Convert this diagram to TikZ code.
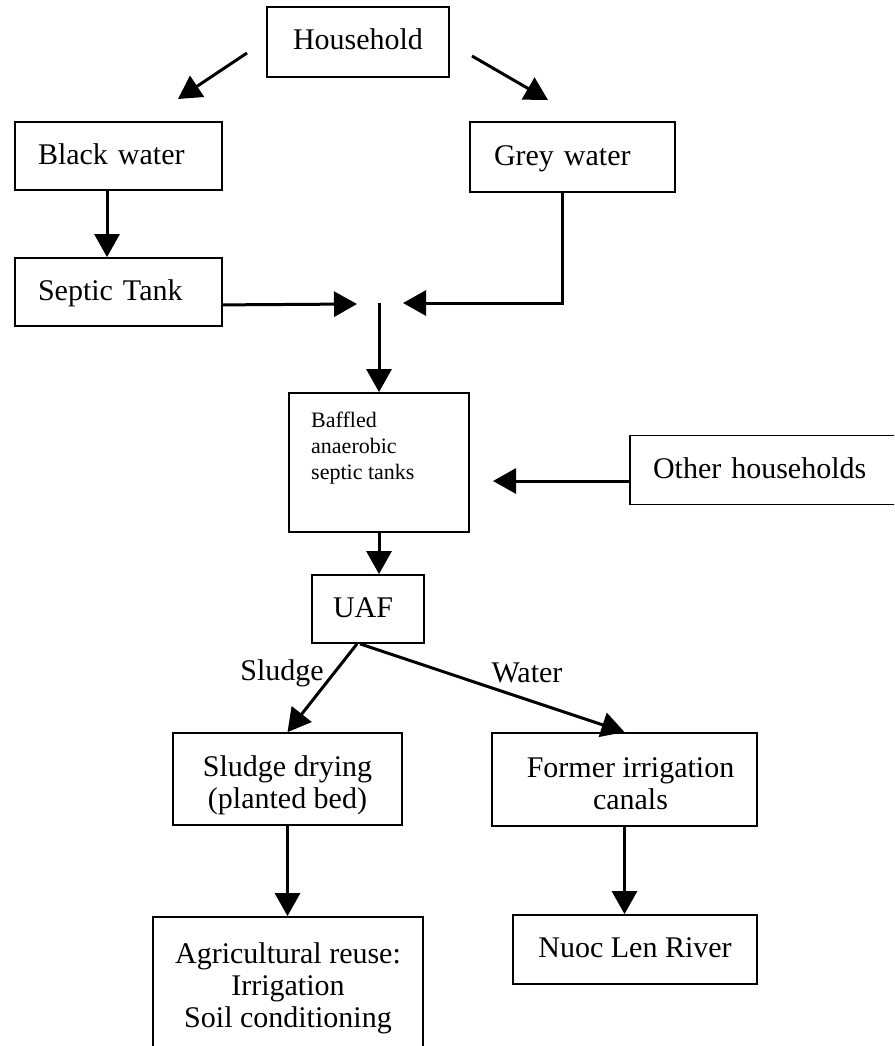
\documentclass[tikz,border=0pt]{standalone}
\usepackage{fontspec}
\setmainfont{Liberation Serif}
\usetikzlibrary{arrows.meta,calc}
\begin{document}
\begin{tikzpicture}[x=1pt,y=-1pt,
  box/.style={draw,line width=1.8pt,inner sep=0pt,font=\fontsize{30}{32}\selectfont},
  one/.style={text height=22pt,text depth=6pt},
  arr/.style={line width=3pt,line join=miter,-{Triangle[length=23pt,width=25pt]}},
  lbl/.style={font=\fontsize{30}{32}\selectfont,inner sep=0pt}]
\clip (0,0) rectangle (894,1046);
\fill[white] (0,0) rectangle (894,1046);

\node[box, one, minimum width=182pt, minimum height=70pt] (house) at (358,42) {Household};
\node[box, one, text width=161pt, inner xsep=23pt, align=left, minimum height=68pt] (black) at (118.5,156) {Black water};
\node[box, one, text width=157pt, inner xsep=24pt, align=left, minimum height=70pt] (grey) at (572.5,157) {Grey water};
\node[box, one, text width=161pt, inner xsep=23pt, align=left, minimum height=68pt] (septic) at (118.5,292) {Septic Tank};
\node[box, minimum width=180pt, minimum height=139pt] (baffled) at (379,462.5) {};
\node[anchor=north west, inner sep=0pt, font=\fontsize{22}{26}\selectfont, align=left] (baffledtxt) at (311,412) {Baffled\\anaerobic\\septic tanks};
\node[box, one, text width=224pt, inner xsep=23pt, align=left, minimum height=69pt] (other) at (765,470) {Other households};
\node[box, one, text width=70pt, inner xsep=21pt, align=left, minimum height=68pt] (uaf) at (368,609) {UAF};
\node[box, minimum width=229pt, minimum height=92pt, align=center] (sludge) at (287.5,779) {\rule{0pt}{33pt}Sludge drying\\(planted bed)};
\node[box, minimum width=270pt, minimum height=143pt, align=center] (agri) at (288,988.5) {Agricultural reuse:\\Irrigation\\Soil conditioning};
\node[box, minimum width=265pt, minimum height=93pt, align=center] (former) at (624.5,779.5) {\rule{0pt}{29pt}\hspace*{12pt}Former irrigation\\\hspace*{12pt}canals};
\node[box, one, minimum width=244pt, minimum height=69pt] (nuoc) at (635,949.5) {Nuoc Len River};

\node[lbl] (sl) at (282,673) {Sludge};
\node[lbl] (wl) at (527,673) {Water};

% free ends
\coordinate (hls) at (247,53);
\coordinate (hle) at (178,99);
\coordinate (hrs) at (472,56);
\coordinate (hre) at (548,100);
\coordinate (xa) at (107,0);
\coordinate (jl) at (357,304);
\coordinate (jr) at (403,303);
\coordinate (jv) at (379,303);
\coordinate (gx) at (562,0);
\coordinate (ot) at (493,481);

\draw[arr] (hls) -- (hle);
\draw[arr] (hrs) -- (hre);
\draw[arr] (black.south -| xa) -- (septic.north -| xa);
\draw[arr] ($(septic.south east)+(0,-22)$) -- (jl);
\draw[arr] (grey.south -| gx) |- (jr);
\draw[arr] (jv) -- (baffled.north);
\draw[arr] (other.west |- ot) -- (ot);
\draw[arr] (baffled.south) -- (baffled.south |- uaf.north);
\draw[arr] ($(uaf.south)+(-11,0)$) -- (sludge.north);
\draw[arr] ($(uaf.south)+(-8,0)$) -- (former.north);
\draw[arr] (sludge.south) -- (sludge.south |- agri.north);
\draw[arr] (former.south) -- (former.south |- nuoc.north);
\end{tikzpicture}
\end{document}
